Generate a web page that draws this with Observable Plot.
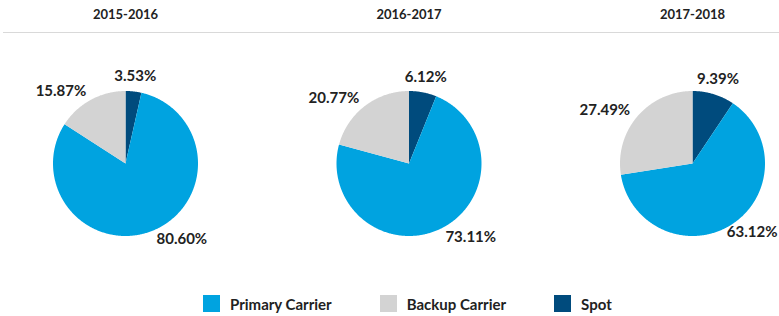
<!DOCTYPE html>
<html>
<head>
<meta charset="utf-8">
<script src="https://cdn.jsdelivr.net/npm/d3@7"></script>
<script src="https://cdn.jsdelivr.net/npm/@observablehq/plot@0.6"></script>
<style>
  html, body { margin: 0; padding: 0; background: #fff; }
  #wrap { position: relative; width: 779px; height: 316px; overflow: hidden; }
  #legend { position: absolute; left: 203px; top: 295px; display: flex; gap: 48px;
            font-family: Lato, "Noto Sans", sans-serif; font-weight: 700; font-size: 15px; color: #222; }
  #legend .item { display: flex; align-items: center; gap: 10px; height: 17px; }
  #legend .sw { width: 17px; height: 17px; display: inline-block; }
</style>
</head>
<body>
<div id="wrap"><div id="chart"></div><div id="legend"></div></div>
<script>
// ---- data ----
const years = ["2015-2016", "2016-2017", "2017-2018"];
const categories = ["Primary Carrier", "Backup Carrier", "Spot"];
const primary = [80.60, 73.11, 63.12];
const backup = [15.87, 20.77, 27.49];
const spot = [3.53, 6.12, 9.39];
const colors = ["#00a3e0", "#d3d3d3", "#004b7d"];

// ---- layout (pixels) ----
const W = 779, H = 290;
const pxPerUnit = 72.5;            // pie radius in px = 1 unit
const cx0 = 125, cyPx = 163, spacingPx = 283.5;
const toY = px => (cyPx - px) / pxPerUnit;
const spacing = spacingPx / pxPerUnit;
const xMaxU = (W - cx0) / pxPerUnit;

const font = "Lato, 'Noto Sans', sans-serif";
const ctx = document.createElement("canvas").getContext("2d");
ctx.font = "700 15px Lato";
const textW = t => ctx.measureText(t).width;

const seriesByCat = {"Primary Carrier": primary, "Backup Carrier": backup, "Spot": spot};
const sliceOrder = ["Spot", "Primary Carrier", "Backup Carrier"]; // clockwise from 12 o'clock

const slicePts = [];
const labels = [];
years.forEach((yr, i) => {
  const cx = i * spacing;
  const total = d3.sum(sliceOrder, c => seriesByCat[c][i]);
  let a0 = 0;
  for (const cat of sliceOrder) {
    const v = seriesByCat[cat][i];
    const a1 = a0 + v / total * 2 * Math.PI;
    const key = yr + "|" + cat;
    slicePts.push({key, cat, x: cx, y: 0});
    const n = Math.max(2, Math.ceil((a1 - a0) / 0.01));
    for (let k = 0; k <= n; k++) {
      const a = a0 + (a1 - a0) * k / n;
      slicePts.push({key, cat, x: cx + Math.sin(a), y: Math.cos(a)});
    }
    slicePts.push({key, cat, x: cx, y: 0});
    const am = (a0 + a1) / 2;
    const s = Math.sin(am);
    const anchor = Math.abs(s) < 0.3 ? "middle" : (s > 0 ? "start" : "end");
    const rl = anchor === "middle" ? 88 / pxPerUnit : 82 / pxPerUnit;
    const text = v.toFixed(2) + "%";
    let x = cx + rl * s;
    if (anchor === "start") x = Math.min(x, xMaxU - (textW(text) + 2) / pxPerUnit); // keep inside the frame
    labels.push({x, y: rl * Math.cos(am), text, anchor});
    a0 = a1;
  }
});

const labelMark = anchor => Plot.text(labels.filter(d => d.anchor === anchor), {
  x: "x", y: "y", text: "text", textAnchor: anchor,
  fontFamily: font, fontWeight: 700, fontSize: 15, fill: "#222"
});

const chart = Plot.plot({
  width: W, height: H,
  marginTop: 0, marginBottom: 0, marginLeft: 0, marginRight: 0,
  x: {domain: [-cx0 / pxPerUnit, xMaxU], axis: null},
  y: {domain: [toY(H), toY(0)], axis: null},
  color: {domain: categories, range: colors},
  style: {background: "#fff", overflow: "visible"},
  marks: [
    Plot.ruleY([toY(32)], {x1: (3 - cx0) / pxPerUnit, x2: xMaxU, stroke: "#d9d9d9", strokeWidth: 1}),
    Plot.text(years, {
      x: (d, i) => i * spacing, y: toY(14), text: d => d,
      fontFamily: font, fontWeight: 700, fontSize: 13, fill: "#222"
    }),
    Plot.line(slicePts, {x: "x", y: "y", z: "key", fill: "cat", stroke: null, curve: "linear"}),
    labelMark("middle"), labelMark("start"), labelMark("end")
  ]
});
document.getElementById("chart").appendChild(chart);

const leg = document.getElementById("legend");
categories.forEach((c, i) => {
  const it = document.createElement("div");
  it.className = "item";
  it.innerHTML = `<span class="sw" style="background:${colors[i]}"></span><span>${c}</span>`;
  leg.appendChild(it);
});
</script>
</body>
</html>
